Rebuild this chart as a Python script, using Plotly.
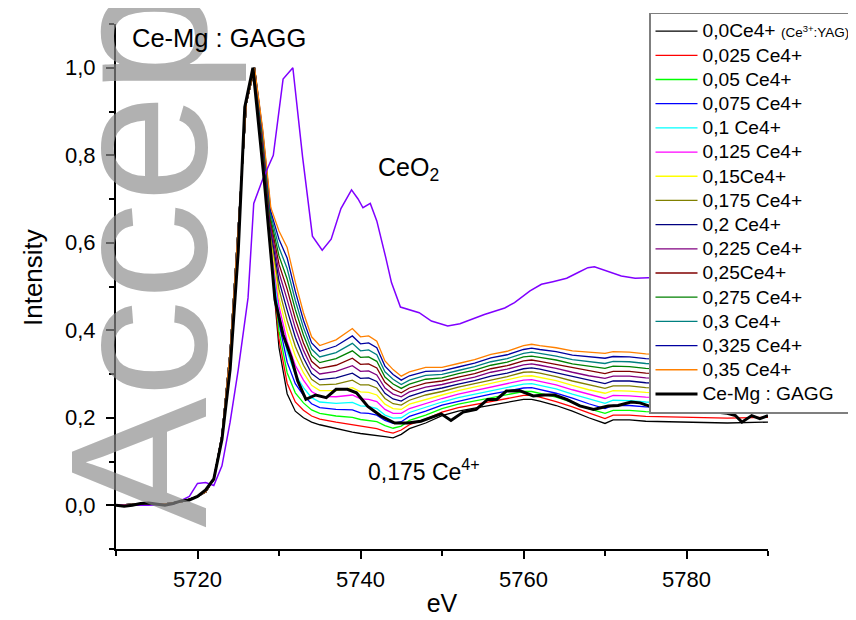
import plotly.graph_objects as go

# ---------------- data ----------------
x_model = [5710, 5713, 5716, 5718, 5720, 5721, 5722, 5723, 5724, 5725, 5726, 5727,
           5728, 5729, 5730, 5731, 5732, 5733, 5734, 5735, 5737, 5739, 5740, 5741,
           5742, 5743, 5744, 5745, 5746, 5748, 5750, 5752, 5754, 5756, 5758, 5760,
           5761, 5762, 5764, 5766, 5768, 5770, 5771, 5773, 5775, 5780, 5785, 5790]

# pre-edge / edge part, common to all model spectra
edge_vals = [0.0, 0.003, 0.003, 0.008, 0.02, 0.03, 0.06, 0.16, 0.35, 0.63, 0.92, 1.0]

post_000 = [.78, .56, .36, .255, .215, .2, .19, .184, .175, .167, .164, .162, .16, .157, .154, .162, .175, .188, .205, .215, .222, .229, .236, .242, .242, .238, .228, .215, .2, .187, .195, .195, .192, .19, .188, .19]
post_025 = [.786, .569, .379, .279, .236, .217, .204, .197, .190, .184, .180, .178, .175, .169, .165, .172, .184, .197, .213, .223, .230, .237, .244, .251, .251, .247, .237, .225, .211, .198, .206, .206, .203, .201, .199, .201]
post_050 = [.791, .577, .398, .303, .257, .234, .218, .210, .204, .201, .196, .194, .191, .182, .176, .181, .194, .206, .221, .231, .238, .246, .253, .260, .260, .256, .247, .235, .221, .210, .217, .217, .214, .212, .210, .211]
post_075 = [.797, .586, .417, .327, .278, .251, .232, .223, .219, .218, .211, .210, .206, .194, .187, .191, .203, .215, .229, .238, .246, .254, .261, .268, .269, .265, .256, .245, .232, .221, .228, .228, .225, .223, .221, .222]
post_100 = [.803, .594, .436, .350, .299, .269, .246, .236, .233, .235, .227, .226, .221, .206, .199, .200, .212, .224, .236, .246, .254, .262, .269, .277, .278, .274, .266, .254, .243, .233, .240, .239, .236, .233, .231, .233]
post_125 = [.809, .603, .455, .374, .320, .286, .260, .249, .248, .252, .243, .242, .237, .219, .210, .210, .221, .233, .244, .254, .262, .270, .277, .286, .287, .283, .275, .264, .254, .244, .251, .250, .247, .244, .242, .244]
post_150 = [.814, .611, .474, .398, .341, .303, .274, .262, .262, .269, .259, .258, .252, .231, .221, .219, .231, .242, .252, .262, .270, .279, .286, .295, .296, .292, .285, .274, .264, .256, .262, .261, .258, .255, .253, .254]
post_175 = [.820, .620, .494, .422, .363, .320, .288, .275, .277, .286, .275, .275, .268, .244, .232, .229, .240, .252, .260, .270, .278, .287, .294, .304, .305, .302, .294, .284, .275, .267, .273, .273, .269, .266, .264, .265]
post_200 = [.826, .629, .513, .446, .384, .337, .301, .287, .291, .302, .290, .291, .283, .256, .243, .238, .249, .261, .268, .277, .285, .295, .302, .312, .314, .311, .303, .294, .286, .278, .284, .284, .280, .277, .275, .276]
post_225 = [.831, .637, .532, .470, .405, .354, .315, .300, .306, .319, .306, .307, .298, .268, .254, .248, .259, .270, .276, .285, .293, .304, .311, .321, .323, .320, .313, .304, .296, .290, .295, .295, .291, .288, .286, .286]
post_250 = [.837, .646, .551, .494, .426, .371, .329, .313, .320, .336, .322, .323, .314, .281, .265, .257, .268, .279, .284, .293, .301, .312, .319, .330, .332, .329, .322, .314, .307, .301, .306, .306, .302, .299, .297, .297]
post_275 = [.843, .654, .570, .517, .447, .389, .343, .326, .335, .353, .338, .339, .329, .293, .277, .267, .277, .288, .291, .301, .309, .320, .327, .339, .341, .338, .332, .323, .318, .313, .318, .317, .313, .309, .307, .308]
post_300 = [.849, .663, .589, .541, .468, .406, .357, .339, .349, .370, .353, .355, .344, .305, .288, .276, .286, .297, .299, .308, .317, .328, .335, .347, .350, .347, .341, .333, .329, .324, .329, .328, .324, .320, .318, .319]
post_325 = [.854, .671, .608, .565, .489, .423, .371, .352, .364, .387, .369, .371, .360, .318, .299, .286, .296, .306, .307, .316, .325, .337, .344, .356, .359, .356, .351, .343, .339, .336, .340, .339, .335, .331, .329, .329]
post_350 = [.86, .68, .627, .589, .51, .44, .385, .365, .378, .404, .385, .387, .375, .33, .31, .295, .305, .315, .315, .324, .333, .345, .352, .365, .368, .365, .36, .353, .35, .347, .351, .35, .346, .342, .34, .34]

series_labels = ["0,0Ce4+ ", "0,025 Ce4+", "0,05 Ce4+", "0,075 Ce4+", "0,1 Ce4+", "0,125 Ce4+",
                 "0,15Ce4+", "0,175 Ce4+", "0,2 Ce4+", "0,225 Ce4+", "0,25Ce4+",
                 "0,275 Ce4+", "0,3 Ce4+", "0,325 Ce4+", "0,35 Ce4+"]
first_label_note = "(Ce<sup>3+</sup>:YAG)"
series_post = [post_000, post_025, post_050, post_075, post_100, post_125, post_150,
               post_175, post_200, post_225, post_250, post_275, post_300, post_325, post_350]
series_colors = ["#000000", "#FF0000", "#00FF00", "#0000FF", "#00FFFF", "#FF00FF",
                 "#FFFF00", "#808000", "#000080", "#800080", "#800000", "#008000",
                 "#008080", "#0000A0", "#FF8000"]

x_ceo2 = [5710, 5714, 5717, 5719, 5720, 5721, 5722, 5723, 5724, 5725, 5726.2, 5726.9,
          5728, 5729.3, 5730.5, 5731.7, 5732.9, 5734.1, 5735.3, 5736.4, 5737.6, 5738.9,
          5739.7, 5740.3, 5741.2, 5742, 5743.1, 5743.8, 5744.9, 5747.2, 5748.7, 5750.7,
          5752.2, 5755.2, 5757.7, 5758.9, 5760.8, 5762.2, 5763.6, 5765.3, 5766.7, 5767.9,
          5768.7, 5770.4, 5772, 5773.7, 5775.3, 5780, 5785, 5790]
y_ceo2 = [0.0, 0.0, 0.002, 0.02, 0.05, 0.052, 0.045, 0.09, 0.19, 0.31, 0.474, 0.69,
          0.745, 0.80, 0.974, 1.0, 0.795, 0.615, 0.583, 0.608, 0.678, 0.721,
          0.70, 0.68, 0.69, 0.65, 0.566, 0.509, 0.453, 0.44, 0.421, 0.41,
          0.415, 0.436, 0.451, 0.463, 0.49, 0.505, 0.511, 0.519, 0.532, 0.543,
          0.545, 0.535, 0.524, 0.519, 0.52, 0.52, 0.52, 0.52]

x_gagg = [5710, 5711, 5712, 5713, 5714, 5715, 5716, 5717, 5718, 5719, 5720, 5721, 5722,
          5723, 5724, 5725, 5725.8, 5726.8, 5728.2, 5729.5, 5730.5, 5731.5, 5732.3, 5733.3,
          5734.5, 5735.8, 5737, 5738.4, 5739.5, 5740.9, 5742.5, 5744.2, 5745.8, 5747.4,
          5748.7, 5749.9, 5751.1, 5752.6, 5754.2, 5755.6, 5756.7, 5757.9, 5759.5, 5761.2,
          5762.5, 5763.8, 5765.3, 5766.9, 5768.6, 5770.4, 5771.6, 5773.2, 5774.3, 5775.7,
          5777, 5779, 5781, 5783, 5785, 5786, 5786.8, 5788, 5789, 5790]
y_gagg = [0.0, -0.002, 0.0, 0.004, 0.005, 0.003, 0.0, 0.004, 0.01, 0.012, 0.02, 0.035, 0.06,
          0.15, 0.31, 0.58, 0.91, 1.0, 0.74, 0.47, 0.39, 0.337, 0.284, 0.242,
          0.252, 0.246, 0.265, 0.265, 0.257, 0.226, 0.204, 0.188, 0.188, 0.192,
          0.2, 0.209, 0.194, 0.213, 0.219, 0.242, 0.242, 0.261, 0.262, 0.25,
          0.252, 0.252, 0.242, 0.227, 0.219, 0.227, 0.228, 0.236, 0.234, 0.225,
          0.222, 0.22, 0.215, 0.214, 0.21, 0.205, 0.19, 0.205, 0.198, 0.205]

x_tick_vals = [5720, 5740, 5760, 5780]
y_tick_vals = [0.0, 0.2, 0.4, 0.6, 0.8, 1.0]

# ---------------- figure ----------------
FONT = "Arial, Liberation Sans, sans-serif"
BIG = "<span style='font-size:19.2px'>%s</span>"
SMALL = "<span style='font-size:13.5px'>%s</span>"

fig = go.Figure()

for i, (lab, post, col) in enumerate(zip(series_labels, series_post, series_colors)):
    name = BIG % lab + (SMALL % first_label_note if i == 0 else "")
    fig.add_trace(go.Scatter(x=x_model, y=edge_vals + post, mode="lines", name=name,
                             line=dict(color=col, width=1.3)))

fig.add_trace(go.Scatter(x=x_ceo2, y=y_ceo2, mode="lines", name="CeO2", showlegend=False,
                         line=dict(color="#8000FF", width=1.5)))
fig.add_trace(go.Scatter(x=x_gagg, y=y_gagg, mode="lines", name=BIG % "Ce-Mg : GAGG",
                         line=dict(color="#000000", width=3)))

L, R, T, B = 108, 96, 16, 79
W, H = 856, 620
pw, ph = W - L - R, H - T - B

fig.update_layout(
    width=W, height=H,
    margin=dict(l=L, r=R, t=T, b=B, autoexpand=False),
    paper_bgcolor="white", plot_bgcolor="white",
    separators=", ",
    font=dict(family=FONT, color="black"),
    showlegend=True,
    legend=dict(x=(641 - L) / pw, y=1 + (T - 4.5) / ph, xanchor="left", yanchor="top",
                bgcolor="white", bordercolor="#7f7f7f", borderwidth=1.5,
                font=dict(size=16.3, family=FONT), tracegroupgap=0, itemwidth=42),
    xaxis=dict(range=[5710, 5790], tickvals=x_tick_vals, ticks="outside", ticklen=8,
               tickwidth=1.5, tickcolor="black", showline=True, linecolor="black",
               linewidth=2, showgrid=False, zeroline=False, separatethousands=False,
               tickfont=dict(size=22), ticklabelstandoff=2,
               minor=dict(dtick=10, tick0=5710, ticks="outside",
                          ticklen=5, tickcolor="black", tickwidth=1.5),
               title=dict(text="eV", font=dict(size=25), standoff=3)),
    yaxis=dict(range=[-0.1, 1.1], tickvals=y_tick_vals, tickformat=".1f", ticks="outside",
               ticklen=8, tickwidth=1.5, tickcolor="black", showline=True,
               linecolor="black", linewidth=2, showgrid=False, zeroline=False,
               tickfont=dict(size=22), ticklabelstandoff=6,
               minor=dict(dtick=0.1, tick0=-0.1, ticks="outside",
                          ticklen=5, tickcolor="black", tickwidth=1.5)),
)
try:
    fig.update_layout(legend_maxheight=600)
except Exception:
    pass

# y-axis title (placed slightly above the plot centre, as in the original)
fig.add_annotation(text="Intensity", xref="paper", yref="paper",
                   x=(25 - L) / pw, y=1 - (270 - T) / ph, xanchor="center", yanchor="middle",
                   textangle=-90, showarrow=False, font=dict(size=26, family=FONT))

# watermark
fig.add_annotation(text="Accepted Manuscript", xref="paper", yref="paper",
                   x=(129 - L) / pw, y=1 - (522 - T) / ph, xanchor="center", yanchor="bottom",
                   textangle=-90, showarrow=False,
                   font=dict(size=195, color="rgba(140,140,140,0.68)", family=FONT))

fig.add_annotation(text="Ce-Mg : GAGG", xref="paper", yref="paper",
                   x=(122 - L) / pw, y=1 - (30 - T) / ph, xanchor="left", yanchor="middle",
                   showarrow=False, font=dict(size=25.5, family=FONT))
fig.add_annotation(text="CeO<sub>2</sub>", x=5741.9, y=0.769, xanchor="left",
                   yanchor="middle", showarrow=False, font=dict(size=25, family=FONT))
fig.add_annotation(text="0,175 Ce<sup>4+</sup>", x=5740.7, y=0.081, xanchor="left",
                   yanchor="middle", showarrow=False, font=dict(size=23, family=FONT))

fig.write_html("out.html")
